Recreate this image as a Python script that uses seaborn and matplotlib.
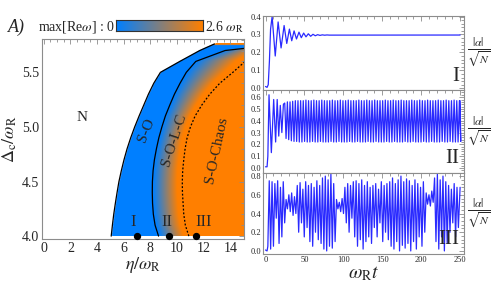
import numpy as np
import pandas as pd
import seaborn as sns
import matplotlib.pyplot as plt
from matplotlib.colors import LinearSegmentedColormap
from matplotlib.ticker import MultipleLocator

sns.set_style("white")
plt.rcParams['font.family'] = ['Liberation Serif', 'DejaVu Serif']
plt.rcParams['mathtext.fontset'] = 'stix'

# ---- phase diagram boundaries (eta/omega_R as a function of Delta_c/omega_R)
delta_c = [4.0, 4.1, 4.2, 4.3, 4.4, 4.5, 4.6, 4.7, 4.8, 4.9, 5.0,
           5.1, 5.2, 5.3, 5.4, 5.5, 5.6, 5.7, 5.76]
eta_so = [5.06, 5.15, 5.25, 5.37, 5.5, 5.64, 5.82, 6.02, 6.25, 6.52, 6.82,
          7.15, 7.5, 7.85, 8.25, 8.75, 10.2, 11.7, 12.8]
eta_solc = [8.61, 8.35, 8.22, 8.16, 8.14, 8.15, 8.2, 8.3, 8.45, 8.63, 8.86,
            9.12, 9.45, 9.8, 10.22, 10.69, 11.4, 13.6, 18.0]
eta_chaos = [10.88, 10.62, 10.5, 10.45, 10.4, 10.39, 10.42, 10.5, 10.6, 10.75, 11.0,
             11.35, 11.85, 12.45, 13.2, 14.18, 15.1, 16.3, 17.2]
points_eta = [7.0, 9.4, 11.4]
points_lab = ["I", "II", "III"]
points_lab_eta = [6.7, 9.2, 12.0]

# ---- time traces |alpha|/sqrt(N): turning points
t_I = [0, 2, 3.5, 5, 6.5, 8.5, 12.5, 16.2, 20, 23.9, 27.3, 30.7, 33.7, 36.7, 39.8,
       43, 46, 49, 52, 55, 58, 61, 64, 67, 70, 73, 76, 79, 82, 250]
a_I = [0.01, 0.005, 0.02, 0.15, 0.33, 0.40, 0.18, 0.37, 0.225, 0.35, 0.25, 0.33,
       0.265, 0.32, 0.275, 0.313, 0.282, 0.308, 0.287, 0.304, 0.29, 0.301, 0.293,
       0.299, 0.295, 0.298, 0.296, 0.2975, 0.2965, 0.297]

t_II_start = [0, 2, 3, 4.5, 7.5, 10.5, 13, 15, 17, 19, 21, 23]
a_II_start = [0.01, 0.01, 0.1, 0.62, 0.13, 0.58, 0.22, 0.58, 0.27, 0.53, 0.3, 0.54]
II_period = 3.4
II_peaks = [0.55, 0.56, 0.56, 0.565, 0.57, 0.57, 0.57, 0.57, 0.575, 0.57, 0.57, 0.575,
            0.57, 0.57, 0.575, 0.57, 0.57, 0.57, 0.575, 0.57, 0.57, 0.575, 0.57, 0.57,
            0.575, 0.57, 0.57, 0.57, 0.575, 0.57, 0.57, 0.575, 0.57, 0.57, 0.575, 0.57,
            0.57, 0.57, 0.575, 0.57, 0.57, 0.575, 0.57, 0.57, 0.575, 0.57, 0.57, 0.57,
            0.575, 0.57, 0.57, 0.575, 0.57, 0.57, 0.575, 0.57, 0.57, 0.57, 0.575, 0.57,
            0.57, 0.575, 0.57, 0.57, 0.575, 0.57, 0.57]
II_troughs = [0.25, 0.24, 0.23, 0.225, 0.225, 0.22, 0.22, 0.225, 0.22, 0.22, 0.225, 0.22,
              0.22, 0.225, 0.22, 0.22, 0.22, 0.225, 0.22, 0.22, 0.225, 0.22, 0.22, 0.22,
              0.225, 0.22, 0.22, 0.225, 0.22, 0.22, 0.22, 0.225, 0.22, 0.22, 0.225, 0.22,
              0.22, 0.22, 0.225, 0.22, 0.22, 0.225, 0.22, 0.22, 0.22, 0.225, 0.22, 0.22,
              0.225, 0.22, 0.22, 0.22, 0.225, 0.22, 0.22, 0.225, 0.22, 0.22, 0.22, 0.225,
              0.22, 0.22, 0.225, 0.22, 0.22, 0.22, 0.225]

t_III_start = [0, 2, 3]
a_III_start = [0.01, 0.0, 0.05]
III_period = 3.6
III_peaks = [0.75, 0.74, 0.72, 0.75, 0.68, 0.74, 0.55, 0.6, 0.62, 0.58, 0.7, 0.73,
             0.66, 0.74, 0.7, 0.72, 0.68, 0.75, 0.7, 0.78, 0.8, 0.76, 0.82, 0.72,
             0.55, 0.52, 0.56, 0.68, 0.72, 0.7, 0.74, 0.75, 0.72, 0.76, 0.7, 0.74,
             0.68, 0.7, 0.72, 0.66, 0.74, 0.7, 0.72, 0.74, 0.78, 0.72, 0.76, 0.8,
             0.74, 0.77, 0.75, 0.7, 0.76, 0.72, 0.68, 0.74, 0.62, 0.6, 0.64, 0.78,
             0.82, 0.76, 0.8, 0.74, 0.7, 0.66, 0.72, 0.68]
III_troughs = [0.02, 0.05, 0.35, 0.08, 0.15, 0.3, 0.45, 0.42, 0.38, 0.4, 0.2, 0.3,
               0.15, 0.25, 0.1, 0.05, 0.2, 0.12, 0.08, 0.02, 0.0, 0.05, 0.03, 0.1,
               0.45, 0.42, 0.4, 0.3, 0.2, 0.35, 0.15, 0.05, 0.12, 0.02, 0.1, 0.15,
               0.08, 0.25, 0.15, 0.3, 0.1, 0.2, 0.12, 0.05, 0.02, 0.1, 0.0, 0.06,
               0.03, 0.08, 0.0, 0.1, 0.02, 0.15, 0.05, 0.2, 0.5, 0.48, 0.52, 0.1,
               0.02, 0.15, 0.0, 0.08, 0.2, 0.3, 0.15, 0.25]


def zigzag(t0, a0, peaks, troughs, period, t_end, a_end):
    t = list(t0)
    a = list(a0)
    start = t0[-1]
    for k, (p, q) in enumerate(zip(peaks, troughs)):
        t += [start + period * (k + 0.5), start + period * (k + 1.0)]
        a += [p, q]
    t.append(t_end)
    a.append(a_end)
    return pd.DataFrame({"t": t, "a": a})


df_I = pd.DataFrame({"t": t_I, "a": a_I})
df_II = zigzag(t_II_start, a_II_start, II_peaks, II_troughs, II_period, 250, 0.57)
df_III = zigzag(t_III_start, a_III_start, III_peaks, III_troughs, III_period, 250, 0.68)

blue = np.array([0.0, 0.5, 1.0])
orange = np.array([1.0, 0.5, 0.0])
cmap = LinearSegmentedColormap.from_list("bo", [blue, orange])
frame_col = "#8c8c8c"

fig = plt.figure(figsize=(4.91, 2.85), dpi=100)

# ---------------- left panel
ax = fig.add_axes([0.0855, 0.160, 0.411, 0.703])
xs = np.linspace(0, 15, 600)
ys = np.linspace(4.0, 5.76, 300)
img = np.ones((len(ys), len(xs), 3))
for i, yv in enumerate(ys):
    o = np.interp(yv, delta_c, eta_so)
    s = np.interp(yv, delta_c, eta_solc)
    d = np.interp(yv, delta_c, eta_chaos)
    f = np.clip((xs - s) / (0.8 * (d - s)), 0, 1)
    col = blue[None, :] * (1 - f[:, None]) + orange[None, :] * f[:, None]
    col[xs >= d] = orange
    col[xs < o] = 1.0
    img[i] = col
ax.imshow(img, origin="lower", extent=[0, 15, 4.0, 5.76], aspect="auto",
          interpolation="bilinear", zorder=0)
ax.plot(eta_so, delta_c, color="black", lw=0.9)
ax.plot(eta_solc, delta_c, color="black", lw=0.9)
ax.plot(eta_chaos, delta_c, color="black", lw=0.9, ls=(0, (1.5, 1.5)))
ax.scatter(points_eta, [4.0] * 3, s=18, color="black", zorder=5, clip_on=False)
for xv, lab in zip(points_lab_eta, points_lab):
    ax.text(xv, 4.055, lab, ha="center", va="bottom", fontsize=12)
ax.text(2.9, 5.09, "N", ha="center", va="center", fontsize=11)
ax.text(7.7, 4.97, "S-O", ha="center", va="center", fontsize=11, rotation=68)
ax.text(9.8, 4.88, "S-O-L-C", ha="center", va="center", fontsize=11, rotation=72)
ax.text(12.95, 4.79, "S-O-Chaos", ha="center", va="center", fontsize=11, rotation=78)
ax.set_xlim(-0.13, 15)
ax.set_ylim(3.97, 5.805)
ax.xaxis.set_major_locator(MultipleLocator(2))
ax.xaxis.set_minor_locator(MultipleLocator(0.5))
ax.yaxis.set_major_locator(MultipleLocator(0.5))
ax.yaxis.set_minor_locator(MultipleLocator(0.1))
ax.set_xlabel(r"$\eta/\omega_{\rm R}$", fontsize=13, labelpad=0)
ax.set_ylabel(r"$\Delta_{\rm c}/\omega_{\rm R}$", fontsize=13, labelpad=2)

# ---------------- right panels
panels = [
    (df_I, [0.536, 0.684, 0.409, 0.261], (-0.01, 0.405), 0.1, "I"),
    (df_II, [0.536, 0.392, 0.409, 0.292], (-0.045, 0.66), 0.1, "II"),
    (df_III, [0.536, 0.109, 0.409, 0.283], (-0.032, 0.83), 0.2, "III"),
]
axes_r = []
for df, pos, ylim, step, lab in panels:
    a = fig.add_axes(pos)
    sns.lineplot(data=df, x="t", y="a", ax=a, sort=False, estimator=None,
                 color="#2a2aff", lw=0.9)
    a.set_xlim(-3, 255)
    a.set_ylim(*ylim)
    a.xaxis.set_major_locator(MultipleLocator(50))
    a.xaxis.set_minor_locator(MultipleLocator(10))
    a.yaxis.set_major_locator(MultipleLocator(step))
    a.yaxis.set_minor_locator(MultipleLocator(step / 5))
    a.yaxis.set_major_formatter(plt.FuncFormatter(lambda v, p: f"{v:.1f}"))
    a.set_xlabel("")
    a.set_ylabel("")
    a.text(0.975, 0.06, lab, transform=a.transAxes, ha="right", va="bottom",
           fontsize=15)
    fig.text(0.975, pos[1] + pos[3] / 2, r"$\frac{|\alpha|}{\sqrt{N}}$",
             ha="center", va="center", fontsize=12)
    axes_r.append(a)
for a in axes_r[:2]:
    a.tick_params(labelbottom=False)
axes_r[2].set_xlabel(r"$\omega_{\rm R}t$", fontsize=14, labelpad=0)

for a in [ax] + axes_r:
    for sp in a.spines.values():
        sp.set_color(frame_col)
        sp.set_linewidth(0.8)
    a.tick_params(which="both", direction="in", top=True, right=True,
                  color=frame_col, width=0.6)
    a.tick_params(which="major", length=3.5)
    a.tick_params(which="minor", length=2)
ax.tick_params(labelsize=10, pad=2)
for a in axes_r:
    a.tick_params(labelsize=6, pad=1.5)

# ---------------- colour bar header
fig.text(0.017, 0.905, "A)", fontsize=13, style="italic", va="center")
fig.text(0.077, 0.905, r"max[Re$\omega$] : 0", fontsize=10, va="center")
cax = fig.add_axes([0.236, 0.891, 0.1766, 0.0386])
cax.imshow(np.linspace(0, 1, 100)[None, :], cmap=cmap, aspect="auto",
           extent=[0, 2.6, 0, 1])
cax.set_xticks([])
cax.set_yticks([])
for sp in cax.spines.values():
    sp.set_color("#333333")
    sp.set_linewidth(0.8)
fig.text(0.417, 0.905, r"2.6 $\omega_{\rm R}$", fontsize=10, va="center")

fig.savefig("out.png", dpi=100)
